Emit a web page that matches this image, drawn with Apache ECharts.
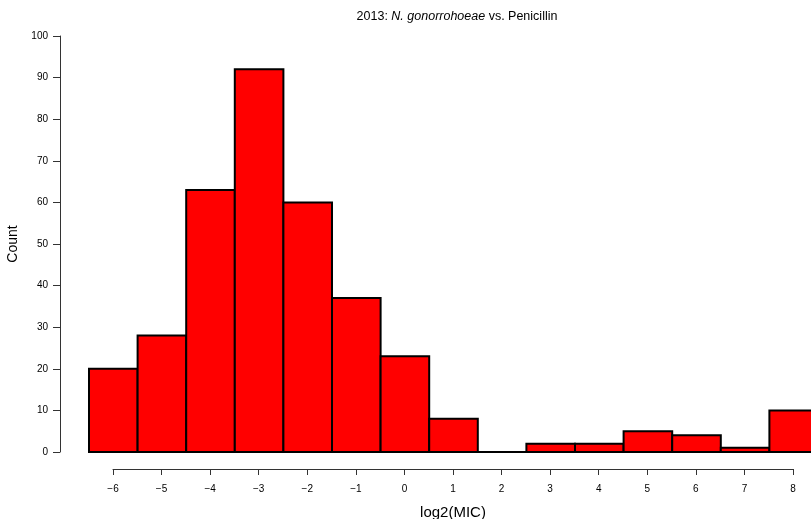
<!DOCTYPE html>
<html lang="en">
<head>
    <meta charset="UTF-8">
    <title>2013 N. gonorrohoeae vs. Penicillin</title>
    <style>
        * {
            margin: 0;
            padding: 0;
        }

        html, body {
            width: 100%;
            height: 100%;
            background: #fff;
        }

        #chart {
            width: 811px;
            height: 519px;
        }
    </style>
    <script src="https://cdn.jsdelivr.net/npm/echarts@6/dist/echarts.min.js"></script>
</head>
<body>
<div id="chart"></div>
<script>
    // log2(MIC) bins and counts
    const micBins = [-6, -5, -4, -3, -2, -1, 0, 1, 2, 3, 4, 5, 6, 7, 8]
    const counts = [20, 28, 63, 92, 60, 37, 23, 8, 0, 2, 2, 5, 4, 1, 10]
    const yTicks = [0, 10, 20, 30, 40, 50, 60, 70, 80, 90, 100]

    const barData = micBins.map((b, i) => [b, counts[i]])

    let chart = echarts.init(document.getElementById('chart'))

    const FONT = 'Liberation Sans, Arial, sans-serif'
    const labelFont = {
        color: '#000',
        fontSize: 10,
        fontFamily: FONT
    }

    let option = {
        animation: false,
        title: {
            text: '2013: {i|N. gonorrohoeae} vs. Penicillin',
            left: 452,
            textAlign: 'center',
            top: 5,
            textStyle: {
                fontSize: 12.5,
                fontWeight: 'normal',
                color: '#000',
                fontFamily: FONT,
                rich: {
                    i: {
                        fontStyle: 'italic',
                        fontSize: 12.5,
                        color: '#000',
                        fontFamily: FONT
                    }
                }
            }
        },
        grid: [
            {left: 89, right: -7, top: 36, bottom: 67, outerBoundsMode: 'none', containLabel: false},
            // separate strip for the detached x axis (R style)
            {left: 113, right: 18, top: 468, bottom: 50, outerBoundsMode: 'none', containLabel: false}
        ],
        xAxis: [
            {
                type: 'value',
                gridIndex: 0,
                min: -6.5,
                max: 8.5,
                show: false
            },
            {
                type: 'value',
                gridIndex: 1,
                min: -6,
                max: 8,
                interval: 1,
                position: 'bottom',
                axisLine: {onZero: false, lineStyle: {color: '#333', width: 1}},
                axisTick: {length: 6, lineStyle: {color: '#333'}},
                splitLine: {show: false},
                axisLabel: Object.assign({
                    margin: 15,
                    formatter: v => String(v).replace('-', '\u2212')
                }, labelFont),
                name: 'log2(MIC)',
                nameLocation: 'middle',
                nameGap: 36,
                nameTextStyle: {
                    fontSize: 15,
                    color: '#000',
                    fontFamily: FONT
                }
            }
        ],
        yAxis: [
            {
                type: 'value',
                gridIndex: 0,
                min: yTicks[0],
                max: yTicks[yTicks.length - 1],
                interval: 10,
                offset: 29,
                position: 'left',
                axisLine: {show: true, onZero: false, lineStyle: {color: '#333', width: 1}},
                axisTick: {show: true, length: 7, lineStyle: {color: '#333'}},
                splitLine: {show: false},
                axisLabel: Object.assign({margin: 12}, labelFont),
                name: 'Count',
                nameLocation: 'middle',
                nameGap: 38,
                nameRotate: 90,
                nameTextStyle: {
                    fontSize: 14,
                    color: '#000',
                    fontFamily: FONT
                }
            },
            {
                type: 'value',
                gridIndex: 1,
                show: false
            }
        ],
        series: [
            {
                type: 'custom',
                xAxisIndex: 0,
                yAxisIndex: 0,
                clip: false,
                data: barData,
                renderItem: function (params, api) {
                    let x = api.value(0)
                    let y = api.value(1)
                    let p0 = api.coord([x - 0.5, 0])
                    let p1 = api.coord([x + 0.5, y])
                    return {
                        type: 'rect',
                        shape: {
                            x: p0[0],
                            y: p1[1],
                            width: p1[0] - p0[0],
                            height: p0[1] - p1[1]
                        },
                        style: {
                            fill: '#ff0000',
                            stroke: '#000',
                            lineWidth: 2
                        }
                    }
                }
            }
        ]
    }
    chart.setOption(option, true)
</script>
</body>
</html>
